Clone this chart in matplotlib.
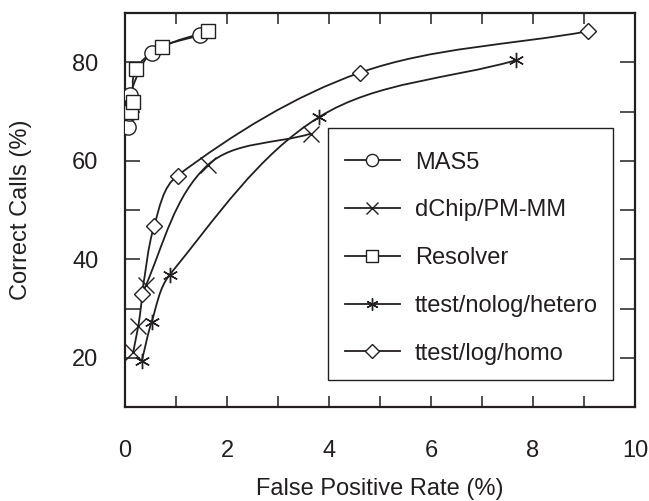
import numpy as np
import matplotlib
matplotlib.use("Agg")
import matplotlib.pyplot as plt
from matplotlib.path import Path
from matplotlib.patches import PathPatch, Rectangle
from matplotlib.lines import Line2D
from matplotlib.ticker import MultipleLocator

plt.rcParams["font.family"] = ["Liberation Sans", "DejaVu Sans"]
plt.rcParams["font.size"] = 17

# values (false positive %, correct calls %)
mas5_x = [0.05, 0.08, 0.10, 0.52, 1.48]
mas5_y = [66.8, 69.6, 73.4, 81.9, 85.6]
dchip_x = [0.16, 0.26, 0.41, 1.62, 3.64]
dchip_y = [21.1, 26.4, 34.7, 59.1, 65.5]
resolver_x = [0.11, 0.15, 0.21, 0.73, 1.62]
resolver_y = [70.0, 72.0, 78.6, 83.1, 86.3]
nolog_x = [0.33, 0.52, 0.88, 3.81, 7.66]
nolog_y = [19.4, 27.2, 36.9, 68.9, 80.4]
loghomo_x = [0.33, 0.57, 1.03, 4.61, 9.08]
loghomo_y = [33.0, 46.7, 57.0, 77.9, 86.3]

labels = ["MAS5", "dChip/PM-MM", "Resolver", "ttest/nolog/hetero", "ttest/log/homo"]
markers = ["o", "x", "s", (6, 2, 0), "D"]
sizes = [11, 11, 10, 11, 8.5]
series = [(mas5_x, mas5_y), (dchip_x, dchip_y), (resolver_x, resolver_y),
          (nolog_x, nolog_y), (loghomo_x, loghomo_y)]

ink = "#231f20"
xlim = (0, 10)
ylim = (10, 90)


def smooth_path(xs, ys):
    # cubic bezier through the points, built in screen-like units
    sx = 1.0 / (xlim[1] - xlim[0])
    sy = (394.0 / 510.0) / (ylim[1] - ylim[0])
    p = np.column_stack([np.array(xs) * sx, np.array(ys) * sy])
    n = len(p)
    t = np.zeros_like(p)
    for i in range(n):
        a = p[max(i - 1, 0)]
        b = p[min(i + 1, n - 1)]
        d = b - a
        t[i] = d / np.hypot(*d)
    verts = [p[0]]
    codes = [Path.MOVETO]
    for i in range(n - 1):
        L = np.hypot(*(p[i + 1] - p[i]))
        verts += [p[i] + t[i] * L / 3, p[i + 1] - t[i + 1] * L / 3, p[i + 1]]
        codes += [Path.CURVE4] * 3
    v = np.array(verts)
    v[:, 0] /= sx
    v[:, 1] /= sy
    return Path(v, codes)


fig = plt.figure(figsize=(6.49, 5.01), dpi=100)
ax = fig.add_axes([0.1926, 0.1876, 0.7858, 0.7864])

handles = []
for (xs, ys), m, ms, lab in zip(series, markers, sizes, labels):
    ax.add_patch(PathPatch(smooth_path(xs, ys), facecolor="none", edgecolor=ink, lw=1.3, zorder=2))
    ax.plot(xs, ys, linestyle="none", marker=m, ms=ms, mfc="white", mec=ink, mew=1.0, zorder=3)
    handles.append(Line2D([], [], color=ink, lw=1.3, marker=m, ms=ms * 0.8,
                          mfc="white", mec=ink, mew=1.0, label=lab))

ax.set_xlim(*xlim)
ax.set_ylim(*ylim)
ax.xaxis.set_major_locator(MultipleLocator(2))
ax.xaxis.set_minor_locator(MultipleLocator(1))
ax.yaxis.set_major_locator(MultipleLocator(20))
ax.yaxis.set_minor_locator(MultipleLocator(10))
ax.tick_params(axis="x", which="both", direction="in", top=True, length=8, width=1.1,
               pad=24, color=ink, labelcolor=ink)
ax.tick_params(axis="y", which="both", direction="in", right=True, length=11, width=1.1,
               pad=19, color=ink, labelcolor=ink)
for s in ax.spines.values():
    s.set_linewidth(1.6)
    s.set_color(ink)

ax.set_xlabel("False Positive Rate (%)", color=ink, labelpad=11)
ax.set_ylabel("Correct Calls (%)", color=ink, labelpad=29)

# legend box drawn separately so the entries can sit where they do in the original
ax.add_patch(Rectangle((0.398, 0.0685), 0.559, 0.6395, transform=ax.transAxes,
                       facecolor="white", edgecolor=ink, lw=1.0, zorder=4))
leg = ax.legend(handles=handles, loc="lower right", bbox_to_anchor=(0.957, 0.0685),
                borderaxespad=0, frameon=False,
                handlelength=2.33, handletextpad=0.64, borderpad=0.65, labelspacing=1.09)
leg.set_zorder(5)
for t in leg.get_texts():
    t.set_color(ink)

fig.savefig("out.png", dpi=100)
